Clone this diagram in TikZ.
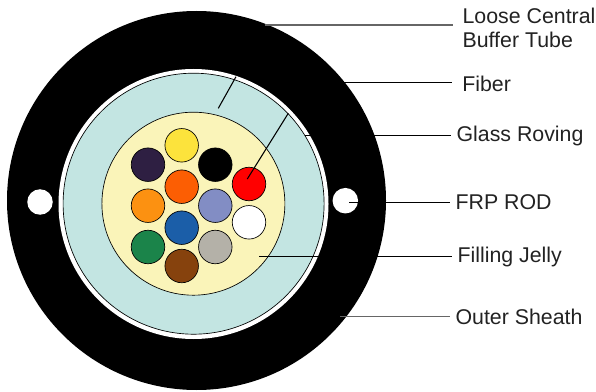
\documentclass[tikz,border=0pt]{standalone}
\usepackage{fontspec}
\setmainfont{Liberation Sans}
\usepackage{tikz}
\usetikzlibrary{calc}

\definecolor{tubeblue}{HTML}{C3E5E2}
\definecolor{jellyyellow}{HTML}{FAF4B9}
\definecolor{labelgrey}{HTML}{222222}
\definecolor{fyellow}{HTML}{FCE33C}
\definecolor{fpurple}{HTML}{2E1F42}
\definecolor{fdeep}{HTML}{FC5E03}
\definecolor{forange}{HTML}{FC9111}
\definecolor{fperi}{HTML}{828DC4}
\definecolor{fblue}{HTML}{1B5EA8}
\definecolor{fgreen}{HTML}{1B844A}
\definecolor{fgrey}{HTML}{B4B1A8}
\definecolor{fbrown}{HTML}{86420D}

\tikzset{
    disc/.style={circle,inner sep=0pt,minimum size=#1*0.75pt},
    fibre/.style={disc=33.5,draw=black,line width=0.5pt,fill=#1},
    hole/.style={disc=25.5,fill=white},
    lead/.style={draw=black,line width=0.8pt},
    leadgrey/.style={draw=black!60,line width=1pt},
    caption/.style={anchor=west,inner ysep=0pt,inner xsep=4pt,text=labelgrey,font=\fontsize{16}{18}\selectfont,align=left}
}

\begin{document}
\begin{tikzpicture}[x=0.75pt,y=-0.75pt]
    \useasboundingbox (0,0) rectangle (596,392);

    % cable body
    \node[disc=379,fill=black] (sheath) at (196.5,200.5) {};
    \node[disc=270,fill=white] (gap) at (193.5,204) {};
    \node[disc=261,fill=tubeblue,draw=black,line width=0.5pt] (tube) at (193.6,203.7) {};
    \node[disc=183,fill=jellyyellow,draw=black,line width=0.5pt] (jelly) at (193.4,203.7) {};

    % rods
    \node[hole] (rodL) at (40,202) {};
    \node[hole] (rodR) at (345.3,200.7) {};

    % fibres
    \node[fibre=fyellow] (f1) at (181.7,145.3) {};
    \node[fibre=fpurple] (f2) at (148,164.7) {};
    \node[fibre=black] (f3) at (215.3,164.7) {};
    \node[fibre=red] (f4) at (249,184) {};
    \node[fibre=fdeep] (f5) at (181.7,186.7) {};
    \node[fibre=forange] (f6) at (148,205.7) {};
    \node[fibre=fperi] (f7) at (215.3,205.7) {};
    \node[fibre=white] (f8) at (249,222.3) {};
    \node[fibre=fblue] (f9) at (181.7,227.7) {};
    \node[fibre=fgreen] (f10) at (148,247) {};
    \node[fibre=fgrey] (f11) at (215.3,247) {};
    \node[fibre=fbrown] (f12) at (181.7,266) {};

    % labels
    \node[caption,inner xsep=7pt] (loose) at (453,28) {Loose Central\\Buffer Tube};
    \node[caption,inner xsep=7.5pt] (fiber) at (452,84) {Fiber};
    \node[caption] (roving) at (451,136) {Glass Roving};
    \node[caption] (frp) at (450,202) {FRP ROD};
    \node[caption] (jellylabel) at (452,257) {Filling Jelly};
    \node[caption] (outer) at (450,317) {Outer Sheath};

    % leader start points
    \coordinate (a1) at (265,25);
    \coordinate (a2) at (340,82.5);
    \coordinate (a3) at (305,135.5);
    \coordinate (a4) at (349,202.3);
    \coordinate (a5) at (259.3,256.3);
    \coordinate (a6) at (340,316.7);
    \coordinate (b1) at (218.3,108.3);
    \coordinate (b2) at (236,76.7);
    \coordinate (c1) at (247.3,179);
    \coordinate (c2) at (288.3,113.3);

    \draw[leadgrey] (a1) -- (a1 -| loose.west);
    \draw[lead] (a2) -- (a2 -| fiber.west);
    \draw[lead] (a3) -- (a3 -| roving.west);
    \draw[lead] (a4) -- (a4 -| frp.west);
    \draw[lead] (a5) -- (a5 -| jellylabel.west);
    \draw[leadgrey] (a6) -- (a6 -| outer.west);
    \draw[lead] (b1) -- (b2);
    \draw[lead] (c1) -- (c2);
\end{tikzpicture}
\end{document}
